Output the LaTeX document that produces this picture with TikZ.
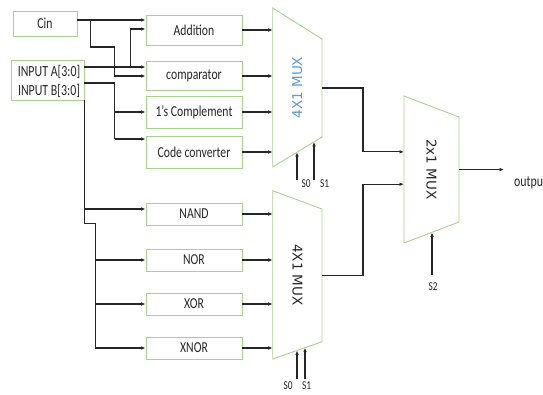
\documentclass[tikz,border=0pt]{standalone}
\usepackage{fontspec}
\setmainfont{Carlito}
\newfontfamily\muxfont{DejaVu Sans}
\usepackage{graphicx}
\usetikzlibrary{arrows.meta,calc}
\definecolor{boxgreen}{HTML}{A9D18E}
\definecolor{muxblue}{HTML}{5B9BD5}
\definecolor{ink}{HTML}{262626}
\newcommand{\vs}[1]{\scalebox{1}[1.3]{#1}}
\begin{document}
\begin{tikzpicture}[x=1pt,y=-1pt,
  blk/.style={draw=boxgreen,line width=0.9pt,minimum width=96pt,inner sep=0pt,font=\fontsize{11.7}{13}\selectfont,text=ink},
  txt/.style={inner sep=0pt,font=\fontsize{11.9}{13}\selectfont,text=ink},
  wire/.style={line width=1.1pt,draw=ink},
  arr/.style={wire,-{Latex[length=4.5pt,width=3.6pt]}},
  mux/.style={draw=boxgreen,line width=0.9pt},
  muxlbl/.style={inner sep=0pt,font=\muxfont\fontsize{13.5}{15}\selectfont},
  sel/.style={inner sep=0pt,font=\fontsize{9.3}{11}\selectfont,text=ink}]
\useasboundingbox (0,0) rectangle (543,394);

% input boxes
\node[blk,minimum width=64pt,minimum height=25pt] (cin) at (45,23.5) {\vs{Cin}};
\node[blk,minimum width=73pt,minimum height=40pt] (inp) at (47.5,80) {};
\node[txt] (inpa) at (49,72) {\vs{INPUT A[3:0]}};
\node[txt] (inpb) at (49,91) {\vs{INPUT B[3:0]}};

% function boxes
\node[blk,minimum height=30pt] (add)  at (194,30)  {\vs{Addition}};
\node[blk,minimum height=29pt] (cmp)  at (194,76)  {\vs{comparator}};
\node[blk,minimum height=32pt] (ones) at (194,112) {\vs{1’s Complement}};
\node[blk,minimum height=32pt] (code) at (194,152) {\vs{Code converter}};
\node[blk,minimum height=22pt] (nand) at (194,214) {\vs{NAND}};
\node[blk,minimum height=22pt] (nor)  at (194,260) {\vs{NOR}};
\node[blk,minimum height=22pt] (xor)  at (194,304) {\vs{XOR}};
\node[blk,minimum height=22pt] (xnor) at (194,348) {\vs{XNOR}};

% multiplexers
\coordinate (m1a) at (272.7,8);   \coordinate (m1b) at (322,39);
\coordinate (m1c) at (322,137);   \coordinate (m1d) at (272.7,167);
\coordinate (m2a) at (272.7,190.7); \coordinate (m2b) at (322,209);
\coordinate (m2c) at (322,341.7); \coordinate (m2d) at (272.7,359);
\coordinate (m3a) at (404,96);    \coordinate (m3b) at (459,117);
\coordinate (m3c) at (459,222);   \coordinate (m3d) at (404,243);
\draw[mux] (m1a) -- (m1b) -- (m1c) -- (m1d) -- cycle;
\draw[mux] (m2a) -- (m2b) -- (m2c) -- (m2d) -- cycle;
\draw[mux] (m3a) -- (m3b) -- (m3c) -- (m3d) -- cycle;
\node[muxlbl,rotate=90,text=muxblue] (mux1) at (297.4,87.5) {4X1 MUX};
\node[muxlbl,rotate=-90,text=ink] (mux2) at (297.4,275) {4X1 MUX};
\node[muxlbl,rotate=-90,text=ink] (mux3) at (431.5,169.5) {2x1 MUX};

% Cin wiring
\draw[arr] ($(cin.east)+(0,-3.5)$) -- ($(add.west)+(0,-10)$);
\draw[arr] ($(cin.east)+(13,-3.5)$) -- ++(0,27) -| ($(cmp.west)+(-31,0)$) -- (cmp.west);

% INPUT A wiring
\draw[arr] ($(inp.east)+(0,-13)$) -- ($(cmp.west)+(0,-9)$);
\draw[arr] ($(inp.east)+(46,-13)$) |- ($(add.west)+(0,-1)$);

% INPUT B wiring
\coordinate (xb) at (115,0);
\draw[wire] ($(inp.east)+(0,3)$) -| ($(code.west)+(-31,-13)$);
\draw[arr] ($(code.west)+(-31,-13)$) -- ($(code.west)+(0,-13)$);
\draw[arr] (ones.west -| xb) -- (ones.west);

% bus to logic gates
\draw[arr] (inp.south east) -- ++(0,123) -| ($(xnor.west)+(-50,0)$) -- (xnor.west);
\draw[arr] ($(nand.west)+(-62,-5)$) -- ($(nand.west)+(0,-5)$);
\draw[arr] ($(nor.west)+(-50,0)$) -- (nor.west);
\draw[arr] ($(xor.west)+(-50,0)$) -- (xor.west);

% box outputs to muxes
\foreach \b in {add,cmp,ones,code}{\draw[arr] (\b.east) -- (\b.east -| m1a);}
\foreach \b in {nand,nor,xor,xnor}{\draw[arr] (\b.east) -- (\b.east -| m2a);}

% mux outputs
\coordinate (in1) at ($(m3a)!0.38!(m3d)$);
\coordinate (in2) at ($(m3a)!0.6!(m3d)$);
\draw[arr] ($(m1b)!0.5!(m1c)$) -- ++(41,0) |- (in1);
\draw[arr] ($(m2b)!0.5!(m2c)$) -- ++(41,0) |- (in2);
\draw[arr] ($(m3b)!0.5!(m3c)$) -- ++(45,0);
\node[txt,anchor=west] (out) at (514,183) {\vs{outpu}};

% select lines
\coordinate (selA) at (0,180);
\coordinate (selB) at (0,379);
\coordinate (selC) at (0,275);
\coordinate (e10) at ($(m1d)!0.493!(m1c)$);
\coordinate (e11) at ($(m1d)!0.838!(m1c)$);
\coordinate (e20) at ($(m2d)!0.493!(m2c)$);
\coordinate (e21) at ($(m2d)!0.655!(m2c)$);
\coordinate (e3)  at ($(m3d)!0.509!(m3c)$);
\draw[arr] (e10 |- selA) -- (e10);
\draw[arr] (e11 |- selA) -- (e11);
\draw[arr] (e20 |- selB) -- (e20);
\draw[arr] (e21 |- selB) -- (e21);
\draw[arr] (e3 |- selC) -- (e3);
\node[sel] (s0a) at (306,184) {\vs{S0}};
\node[sel] (s1a) at (324.5,184) {\vs{S1}};
\node[sel] (s0b) at (288,386) {\vs{S0}};
\node[sel] (s1b) at (306.5,386) {\vs{S1}};
\node[sel] (s2)  at (433,287) {\vs{S2}};
\end{tikzpicture}
\end{document}
